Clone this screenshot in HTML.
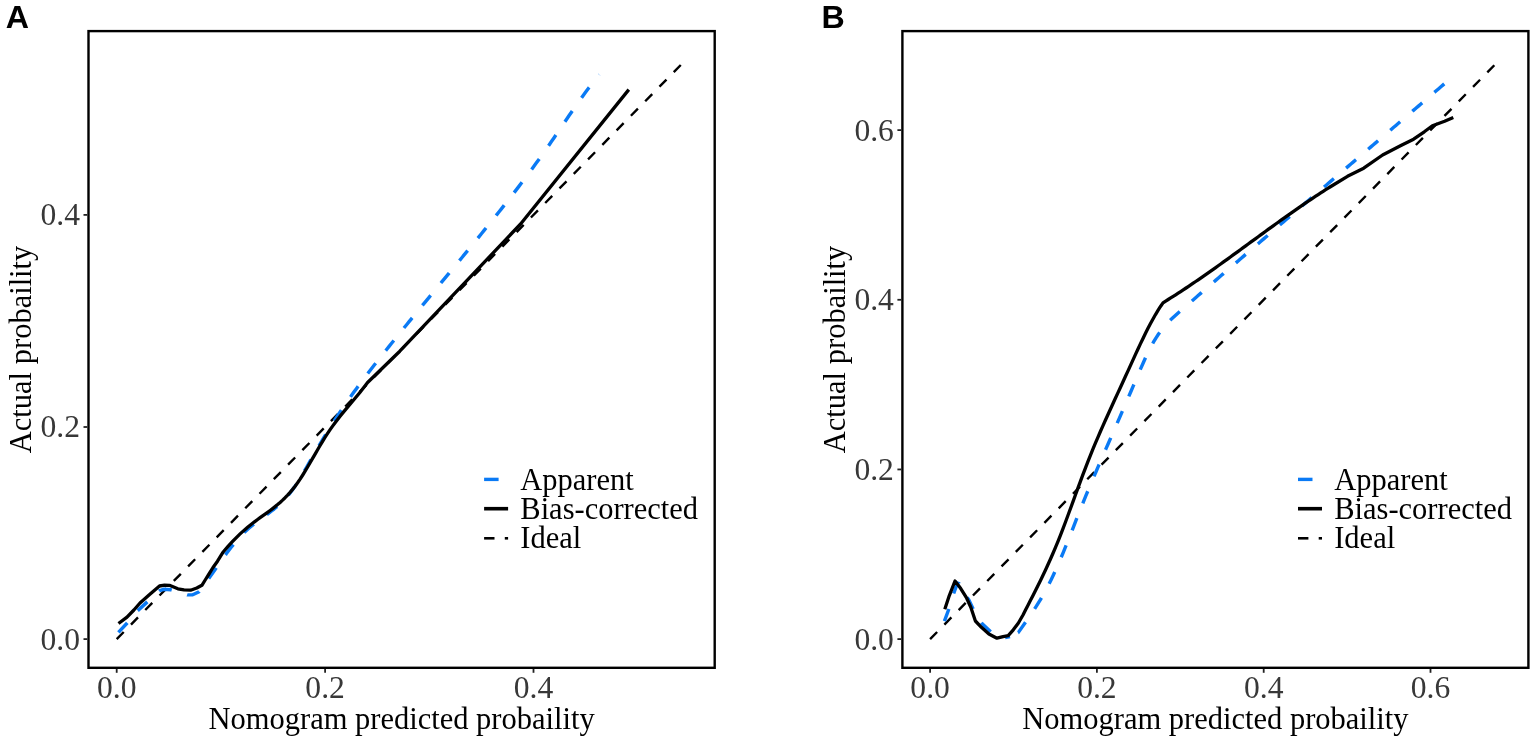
<!DOCTYPE html><html><head><meta charset="utf-8"><style>html,body{margin:0;padding:0;background:#fff;overflow:hidden}svg{display:block}</style></head><body>
<svg width="1535" height="742" viewBox="0 0 1535 742">
<rect width="1535" height="742" fill="#fff"/>
<text x="5.7" y="28.2" font-family="Liberation Sans, Arial, sans-serif" font-weight="bold" font-size="32.2">A</text>
<line x1="116.7" y1="639.1" x2="681.46" y2="64.31" stroke="#000" stroke-width="2.4" stroke-dasharray="10 10.38"/>
<path d="M118.3,632.5 L127.2,623 L137.4,610.9 L147.5,601.7 L153,596 L159.3,590.8 L164,589.2 L171,589.8 L180,592.5 L187.5,594.9 L192.7,594.8 L199.1,591.7 L203.5,586 L208.9,578.2 L216.2,567.9 L222,558.5 L224.1,556.72 L226.6,553.34 L229.1,550.03 L231.6,546.81 L234.1,543.69 L236.6,540.7 L239.1,537.84 L241.6,535.12 L244.1,532.57 L246.6,530.19 L249.1,527.96 L251.6,525.86 L254.1,523.88 L256.6,521.97 L259.1,520.13 L261.6,518.33 L264.1,516.54 L266.6,514.74 L269.1,512.9 L271.6,511.01 L274.1,509.04 L276.6,506.97 L279.1,504.77 L281.6,502.42 L284.1,499.9 L286.6,497.18 L289.1,494.24 L291.6,491.05 L294.1,487.6 L296.6,483.88 L299.1,479.95 L301.6,475.84 L304.1,471.6 L306.6,467.26 L309.1,462.88 L311.6,458.49 L314.1,454.14 L316.6,449.83 L319.1,445.58 L321.6,441.37 L324.1,437.21 L326.6,433.11 L329.1,429.07 L331.6,425.08 L334.1,421.15 L336.6,417.29 L339.1,413.49 L341.6,409.75 L344.1,406.06 L346.6,402.43 L349.1,398.84 L351.6,395.31 L354.1,391.82 L356.6,388.38 L359.1,384.97 L361.6,381.61 L364.1,378.28 L366.6,374.98 L369.1,371.71 L371.6,368.47 L374.1,365.25 L376.6,362.06 L379.1,358.88 L381.6,355.73 L384.1,352.58 L386.6,349.45 L389.1,346.33 L391.6,343.22 L394.1,340.11 L396.6,337.01 L399.1,333.93 L401.6,330.85 L404.1,327.77 L406.6,324.7 L409.1,321.64 L411.6,318.59 L414.1,315.54 L416.6,312.49 L419.1,309.45 L421.6,306.41 L424.1,303.38 L426.6,300.34 L429.1,297.32 L431.6,294.29 L434.1,291.26 L436.6,288.24 L439.1,285.22 L441.6,282.19 L444.1,279.17 L446.6,276.15 L449.1,273.12 L451.6,270.1 L454.1,267.07 L456.6,264.04 L459.1,261 L461.6,257.97 L464.1,254.93 L466.6,251.88 L469.1,248.83 L471.6,245.78 L474.1,242.72 L476.6,239.65 L479.1,236.58 L481.6,233.5 L484.1,230.42 L486.6,227.33 L489.1,224.22 L491.6,221.11 L494.1,217.99 L496.6,214.87 L499.1,211.73 L501.6,208.58 L504.1,205.41 L506.6,202.24 L509.1,199.05 L511.6,195.84 L514.1,192.61 L516.6,189.37 L519.1,186.11 L521.6,182.82 L524.1,179.52 L526.6,176.19 L529.1,172.83 L531.6,169.45 L534.1,166.04 L536.6,162.61 L539.1,159.14 L541.6,155.65 L544.1,152.12 L546.6,148.56 L549.1,144.96 L551.6,141.34 L554.1,137.68 L556.6,134.01 L559.1,130.33 L561.6,126.63 L564.1,122.94 L566.6,119.26 L569.1,115.58 L571.6,111.93 L574.1,108.3 L576.6,104.71 L579.1,101.15 L581.6,97.64 L584.1,94.17 L586.6,90.77 L589.1,87.43 L591.6,84.16 L594.1,80.97 L596.6,77.86 L599.1,74.84 L599.3,74.6" fill="none" stroke="#0a7af5" stroke-width="3.4" stroke-dasharray="13.0 16.08" stroke-dashoffset="28.91" stroke-linejoin="round"/>
<path d="M118.5,623.5 L127,617.1 L133.9,610 L140,603 L149.6,594.5 L159.5,586 L164.5,585.2 L169.4,585.3 L177.9,588.8 L184,589.9 L190.6,590.2 L196.8,588 L201.9,585.3 L205.5,579.5 L209,574 L213,567.5 L217.5,561.2 L222.6,552.8 L225.1,549.76 L227.6,546.85 L230.1,544.05 L232.6,541.36 L235.1,538.78 L237.6,536.31 L240.1,533.92 L242.6,531.63 L245.1,529.43 L247.6,527.31 L250.1,525.26 L252.6,523.29 L255.1,521.37 L257.6,519.52 L260.1,517.71 L262.6,515.91 L265.1,514.13 L267.6,512.32 L270.1,510.48 L272.6,508.59 L275.1,506.63 L277.6,504.58 L280.1,502.42 L282.6,500.14 L285.1,497.71 L287.6,495.12 L290.1,492.35 L292.6,489.38 L295.1,486.19 L297.6,482.76 L300.1,479.1 L302.6,475.23 L305.1,471.19 L307.6,467.02 L310.1,462.76 L312.6,458.44 L315.1,454.1 L317.6,449.77 L320.1,445.49 L322.6,441.31 L325.1,437.25 L327.6,433.35 L330.1,429.64 L332.6,426.09 L335.1,422.69 L337.6,419.41 L340.1,416.24 L342.6,413.16 L345.1,410.14 L347.6,407.16 L350.1,404.21 L352.6,401.26 L355.1,398.29 L357.6,395.28 L360.1,392.22 L362.6,389.07 L365.1,385.83 L367.6,382.47 L399.8,351.2 L520.6,224 L628.8,89.6" fill="none" stroke="#000" stroke-width="3.3" stroke-linejoin="round"/>
<rect x="88.5" y="31.1" width="626.2" height="636.7" fill="none" stroke="#000" stroke-width="2.4"/>
<line x1="116.7" y1="669" x2="116.7" y2="672.8" stroke="#222" stroke-width="1.8"/>
<text x="116.7" y="697.7" text-anchor="middle" font-family="Liberation Serif, Times New Roman, serif" font-size="31.6" fill="#383838">0.0</text>
<line x1="325.1" y1="669" x2="325.1" y2="672.8" stroke="#222" stroke-width="1.8"/>
<text x="325.1" y="697.7" text-anchor="middle" font-family="Liberation Serif, Times New Roman, serif" font-size="31.6" fill="#383838">0.2</text>
<line x1="533.5" y1="669" x2="533.5" y2="672.8" stroke="#222" stroke-width="1.8"/>
<text x="533.5" y="697.7" text-anchor="middle" font-family="Liberation Serif, Times New Roman, serif" font-size="31.6" fill="#383838">0.4</text>
<line x1="87.3" y1="639.1" x2="83.5" y2="639.1" stroke="#222" stroke-width="1.8"/>
<text x="80" y="649.5" text-anchor="end" font-family="Liberation Serif, Times New Roman, serif" font-size="31.6" fill="#383838">0.0</text>
<line x1="87.3" y1="427" x2="83.5" y2="427" stroke="#222" stroke-width="1.8"/>
<text x="80" y="437.4" text-anchor="end" font-family="Liberation Serif, Times New Roman, serif" font-size="31.6" fill="#383838">0.2</text>
<line x1="87.3" y1="214.9" x2="83.5" y2="214.9" stroke="#222" stroke-width="1.8"/>
<text x="80" y="225.3" text-anchor="end" font-family="Liberation Serif, Times New Roman, serif" font-size="31.6" fill="#383838">0.4</text>
<text x="401.6" y="729" text-anchor="middle" font-family="Liberation Serif, Times New Roman, serif" font-size="30.5">Nomogram predicted probaility</text>
<text transform="translate(30.7,349.45) rotate(-90)" text-anchor="middle" font-family="Liberation Serif, Times New Roman, serif" font-size="30.5">Actual probaility</text>
<line x1="484.1" y1="479.4" x2="498.6" y2="479.4" stroke="#0a7af5" stroke-width="3.4"/>
<line x1="484.1" y1="508.7" x2="508.1" y2="508.7" stroke="#000" stroke-width="3.6"/>
<line x1="484.1" y1="538.3" x2="494.5" y2="538.3" stroke="#000" stroke-width="2.6"/>
<line x1="504.8" y1="538.3" x2="508.1" y2="538.3" stroke="#000" stroke-width="2.6"/>
<text x="520.3" y="489.9" font-family="Liberation Serif, Times New Roman, serif" font-size="30.5">Apparent</text>
<text x="520.3" y="518.7" font-family="Liberation Serif, Times New Roman, serif" font-size="30.5">Bias-corrected</text>
<text x="520.3" y="547.7" font-family="Liberation Serif, Times New Roman, serif" font-size="30.5">Ideal</text>
<text x="821.4" y="28.2" font-family="Liberation Sans, Arial, sans-serif" font-weight="bold" font-size="32.2">B</text>
<line x1="930.1" y1="639.1" x2="1494.3" y2="65.23" stroke="#000" stroke-width="2.4" stroke-dasharray="10 10.38"/>
<path d="M944.4,621.1 L948.9,609 L953.8,593.1 L956.5,585.6 L957.5,583 L959,583.5 L962.5,591 L968.9,600 L974.2,611.2 L978,618.5 L982.2,623.8 L991.7,632.7 L996,635.8 L1000,637.3 L1005,637.6 L1010,636.5" fill="none" stroke="#0a7af5" stroke-width="3.4" stroke-dasharray="13.0 16.08" stroke-dashoffset="0" stroke-linejoin="round"/>
<path d="M1010,636.5 L1014,634.8 L1018.4,632.4 L1025.9,621.6 L1028.4,618.07 L1030.9,614.46 L1033.4,610.74 L1035.9,606.91 L1038.4,602.93 L1040.9,598.78 L1043.4,594.46 L1045.9,589.93 L1048.4,585.17 L1050.9,580.18 L1053.4,574.95 L1055.9,569.51 L1058.4,563.87 L1060.9,558.06 L1063.4,552.09 L1065.9,545.98 L1068.4,539.76 L1070.9,533.45 L1073.4,527.08 L1075.9,520.7 L1078.4,514.34 L1080.9,508.03 L1083.4,501.81 L1085.9,495.69 L1088.4,489.66 L1090.9,483.71 L1093.4,477.82 L1095.9,471.98 L1098.4,466.18 L1100.9,460.41 L1103.4,454.66 L1105.9,448.92 L1108.4,443.2 L1110.9,437.49 L1113.4,431.78 L1115.9,426.07 L1118.4,420.35 L1120.9,414.62 L1123.4,408.88 L1125.9,403.13 L1128.4,397.35 L1130.9,391.54 L1133.4,385.7 L1135.9,379.83 L1138.4,373.95 L1140.9,368.14 L1143.4,362.45 L1145.9,356.96 L1148.4,351.71 L1150.9,346.77 L1153.4,342.22 L1155.9,338.07 L1158.4,334.28 L1160.9,330.83 L1163.4,327.67 L1165.9,324.77 L1168.4,322.09 L1170.9,319.58 L1173.4,317.21 L1175.9,314.94 L1178.4,312.73 L1180.9,310.55 L1183.4,308.38 L1185.9,306.2 L1188.4,304.02 L1190.9,301.85 L1193.4,299.67 L1195.9,297.5 L1198.4,295.33 L1200.9,293.15 L1203.4,290.98 L1205.9,288.81 L1208.4,286.65 L1210.9,284.48 L1213.4,282.31 L1215.9,280.14 L1218.4,277.98 L1220.9,275.82 L1223.4,273.65 L1225.9,271.49 L1228.4,269.33 L1230.9,267.17 L1233.4,265 L1235.9,262.84 L1238.4,260.69 L1240.9,258.53 L1243.4,256.37 L1245.9,254.21 L1248.4,252.06 L1250.9,249.9 L1253.4,247.74 L1255.9,245.59 L1258.4,243.44 L1260.9,241.28 L1263.4,239.13 L1265.9,236.98 L1268.4,234.83 L1270.9,232.67 L1273.4,230.52 L1275.9,228.37 L1278.4,226.22 L1280.9,224.07 L1283.4,221.92 L1285.9,219.78 L1288.4,217.63 L1290.9,215.48 L1293.4,213.33 L1295.9,211.19 L1298.4,209.04 L1300.9,206.89 L1303.4,204.75 L1305.9,202.6 L1308.4,200.46 L1310.9,198.31 L1313.4,196.17 L1315.9,194.02 L1318.4,191.88 L1320.9,189.73 L1323.4,187.59 L1325.9,185.45 L1328.4,183.3 L1330.9,181.16 L1333.4,179.02 L1335.9,176.87 L1338.4,174.73 L1340.9,172.59 L1343.4,170.44 L1345.9,168.3 L1348.4,166.16 L1350.9,164.02 L1353.4,161.87 L1355.9,159.73 L1358.4,157.59 L1360.9,155.44 L1363.4,153.3 L1365.9,151.16 L1368.4,149.02 L1370.9,146.87 L1373.4,144.73 L1375.9,142.59 L1378.4,140.44 L1380.9,138.3 L1383.4,136.16 L1385.9,134.01 L1388.4,131.87 L1390.9,129.72 L1393.4,127.58 L1395.9,125.43 L1398.4,123.29 L1400.9,121.14 L1403.4,119 L1405.9,116.85 L1408.4,114.71 L1410.9,112.56 L1413.4,110.41 L1415.9,108.27 L1418.4,106.12 L1420.9,103.97 L1423.4,101.82 L1425.9,99.67 L1428.4,97.52 L1430.9,95.37 L1433.4,93.22 L1435.9,91.07 L1438.4,88.92 L1440.9,86.77 L1443.4,84.62 L1444.7,83.5" fill="none" stroke="#0a7af5" stroke-width="3.4" stroke-dasharray="13.0 16.08" stroke-dashoffset="20.25" stroke-linejoin="round"/>
<path d="M944.8,609.2 L949.3,595.6 L955,581 L960.6,588.3 L966.7,598.2 L970.8,607.3 L975.4,621 L981.4,627.3 L988.9,634 L996.9,638.2 L1003.1,636.6 L1008.2,635.6 L1013.3,629.8 L1018.4,623 L1023,615 L1025.5,610.11 L1028,605.24 L1030.5,600.35 L1033,595.44 L1035.5,590.49 L1038,585.48 L1040.5,580.4 L1043,575.22 L1045.5,569.94 L1048,564.53 L1050.5,558.98 L1053,553.27 L1055.5,547.39 L1058,541.32 L1060.5,535.04 L1063,528.59 L1065.5,521.99 L1068,515.27 L1070.5,508.47 L1073,501.62 L1075.5,494.76 L1078,487.91 L1080.5,481.11 L1083,474.4 L1085.5,467.8 L1088,461.35 L1090.5,455.06 L1093,448.93 L1095.5,442.93 L1098,437.05 L1100.5,431.28 L1103,425.61 L1105.5,420 L1108,414.46 L1110.5,408.96 L1113,403.5 L1115.5,398.05 L1118,392.62 L1120.5,387.2 L1123,381.76 L1125.5,376.31 L1128,370.84 L1130.5,365.35 L1133,359.87 L1135.5,354.41 L1138,349 L1140.5,343.66 L1143,338.42 L1145.5,333.31 L1148,328.34 L1150.5,323.53 L1153,318.92 L1155.5,314.53 L1158,310.37 L1160.5,306.48 L1163,302.87 L1165.7,301.07 L1168.2,299.52 L1170.7,297.95 L1173.2,296.37 L1175.7,294.78 L1178.2,293.17 L1180.7,291.54 L1183.2,289.9 L1185.7,288.25 L1188.2,286.58 L1190.7,284.9 L1193.2,283.21 L1195.7,281.51 L1198.2,279.8 L1200.7,278.07 L1203.2,276.34 L1205.7,274.6 L1208.2,272.85 L1210.7,271.09 L1213.2,269.32 L1215.7,267.55 L1218.2,265.76 L1220.7,263.98 L1223.2,262.18 L1225.7,260.38 L1228.2,258.58 L1230.7,256.77 L1233.2,254.96 L1235.7,253.14 L1238.2,251.32 L1240.7,249.5 L1243.2,247.68 L1245.7,245.85 L1248.2,244.03 L1250.7,242.2 L1253.2,240.38 L1255.7,238.55 L1258.2,236.73 L1260.7,234.9 L1263.2,233.08 L1265.7,231.27 L1268.2,229.45 L1270.7,227.64 L1273.2,225.83 L1275.7,224.03 L1278.2,222.23 L1280.7,220.44 L1283.2,218.66 L1285.7,216.88 L1288.2,215.11 L1290.7,213.34 L1293.2,211.59 L1295.7,209.84 L1298.2,208.1 L1300.7,206.37 L1303.2,204.65 L1305.7,202.95 L1308.2,201.25 L1310.7,199.56 L1313.2,197.89 L1315.7,196.23 L1318.2,194.58 L1320.7,192.95 L1323.2,191.33 L1325.7,189.72 L1328.2,188.14 L1330,187 L1347.5,176.3 L1363.7,168.2 L1382.6,155 L1401.4,145.3 L1413.6,139.2 L1424.3,131.8 L1432.4,125.7 L1444.6,121.3 L1453.3,117.6" fill="none" stroke="#000" stroke-width="3.3" stroke-linejoin="round"/>
<rect x="902.4" y="31.1" width="626" height="636.7" fill="none" stroke="#000" stroke-width="2.4"/>
<line x1="930.1" y1="669" x2="930.1" y2="672.8" stroke="#222" stroke-width="1.8"/>
<text x="930.1" y="697.7" text-anchor="middle" font-family="Liberation Serif, Times New Roman, serif" font-size="31.6" fill="#383838">0.0</text>
<line x1="1096.9" y1="669" x2="1096.9" y2="672.8" stroke="#222" stroke-width="1.8"/>
<text x="1096.9" y="697.7" text-anchor="middle" font-family="Liberation Serif, Times New Roman, serif" font-size="31.6" fill="#383838">0.2</text>
<line x1="1263.7" y1="669" x2="1263.7" y2="672.8" stroke="#222" stroke-width="1.8"/>
<text x="1263.7" y="697.7" text-anchor="middle" font-family="Liberation Serif, Times New Roman, serif" font-size="31.6" fill="#383838">0.4</text>
<line x1="1430.5" y1="669" x2="1430.5" y2="672.8" stroke="#222" stroke-width="1.8"/>
<text x="1430.5" y="697.7" text-anchor="middle" font-family="Liberation Serif, Times New Roman, serif" font-size="31.6" fill="#383838">0.6</text>
<line x1="901.2" y1="639.1" x2="897.4" y2="639.1" stroke="#222" stroke-width="1.8"/>
<text x="893.9" y="649.5" text-anchor="end" font-family="Liberation Serif, Times New Roman, serif" font-size="31.6" fill="#383838">0.0</text>
<line x1="901.2" y1="469.44" x2="897.4" y2="469.44" stroke="#222" stroke-width="1.8"/>
<text x="893.9" y="479.84" text-anchor="end" font-family="Liberation Serif, Times New Roman, serif" font-size="31.6" fill="#383838">0.2</text>
<line x1="901.2" y1="299.78" x2="897.4" y2="299.78" stroke="#222" stroke-width="1.8"/>
<text x="893.9" y="310.18" text-anchor="end" font-family="Liberation Serif, Times New Roman, serif" font-size="31.6" fill="#383838">0.4</text>
<line x1="901.2" y1="130.12" x2="897.4" y2="130.12" stroke="#222" stroke-width="1.8"/>
<text x="893.9" y="140.52" text-anchor="end" font-family="Liberation Serif, Times New Roman, serif" font-size="31.6" fill="#383838">0.6</text>
<text x="1215.4" y="729" text-anchor="middle" font-family="Liberation Serif, Times New Roman, serif" font-size="30.5">Nomogram predicted probaility</text>
<text transform="translate(844.6,349.45) rotate(-90)" text-anchor="middle" font-family="Liberation Serif, Times New Roman, serif" font-size="30.5">Actual probaility</text>
<line x1="1298" y1="479.4" x2="1312.5" y2="479.4" stroke="#0a7af5" stroke-width="3.4"/>
<line x1="1298" y1="508.7" x2="1322" y2="508.7" stroke="#000" stroke-width="3.6"/>
<line x1="1298" y1="538.3" x2="1308.4" y2="538.3" stroke="#000" stroke-width="2.6"/>
<line x1="1318.7" y1="538.3" x2="1322" y2="538.3" stroke="#000" stroke-width="2.6"/>
<text x="1334.2" y="489.9" font-family="Liberation Serif, Times New Roman, serif" font-size="30.5">Apparent</text>
<text x="1334.2" y="518.7" font-family="Liberation Serif, Times New Roman, serif" font-size="30.5">Bias-corrected</text>
<text x="1334.2" y="547.7" font-family="Liberation Serif, Times New Roman, serif" font-size="30.5">Ideal</text>
</svg></body></html>
